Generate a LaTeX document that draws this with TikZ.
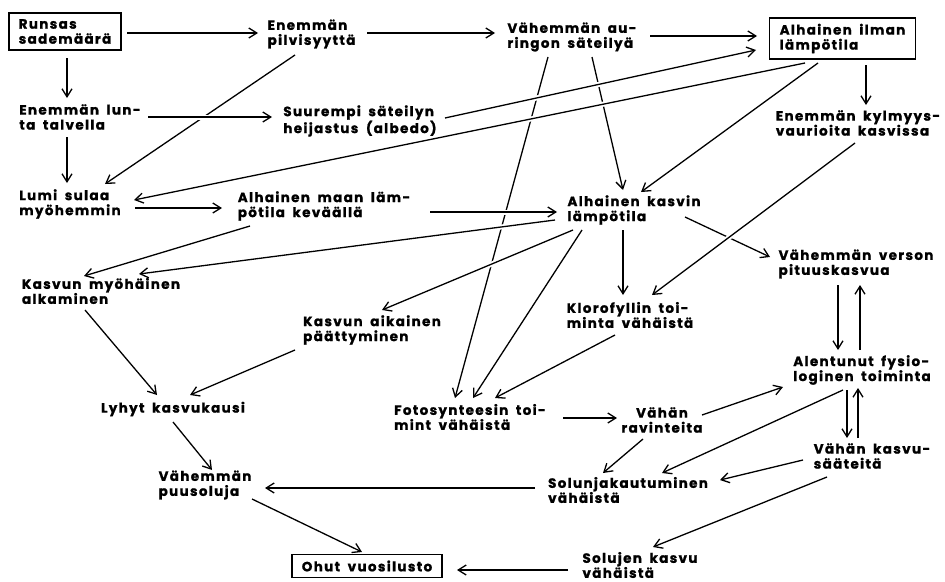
\documentclass[tikz,border=0pt]{standalone}
\usepackage{fontspec}
\setmainfont{Poppins}[LetterSpace=10,WordSpace=1.8,BoldFeatures={FakeBold=1.2}]
\usetikzlibrary{arrows.meta}
\tikzset{
  txt/.style={align=left,inner sep=0pt,font=\fontsize{13.5}{15}\selectfont\bfseries},
  box/.style={txt,draw,line width=1.6pt,inner xsep=10pt,inner ysep=6pt},
  arr/.style={line width=1.3pt,-{Straight Barb[length=8pt,width=10pt]}},
  halo/.style={preaction={draw=white,line width=5pt,-}}
}

\begin{document}
\begin{tikzpicture}[x=1pt,y=-1pt]
\useasboundingbox (0,0) rectangle (945,581);
% nodes, placed at their centres
\node[box] (sade) at (65,31.5) {Runsas\\sademäärä};
\node[txt] (pilvi) at (311.5,34) {Enemmän\\pilvisyyttä};
\node[txt] (aur) at (572,37) {Vähemmän au-\\ringon säteilyä};
\node[box] (ilma) at (842.5,38.5) {Alhainen ilman\\lämpötila};
\node[txt] (lunta) at (80,117) {Enemmän lun-\\ta talvella};
\node[txt] (albedo) at (360,121) {Suurempi säteilyn\\heijastus (albedo)};
\node[txt] (kylm) at (858,123) {Enemmän kylmyys-\\vaurioita kasvissa};
\node[txt] (lumi) at (70,204) {Lumi sulaa\\myöhemmin};
\node[txt] (maan) at (324,206) {Alhainen maan läm-\\pötila keväällä};
\node[txt] (kasvin) at (634,210) {Alhainen kasvin\\lämpötila};
\node[txt] (myoh) at (101,291) {Kasvun myöhäinen\\alkaminen};
\node[txt] (aik) at (372,330) {Kasvun aikainen\\päättyminen};
\node[txt] (klor) at (630,315) {Klorofyllin toi-\\minta vähäistä};
\node[txt] (verson) at (856,264) {Vähemmän verson\\pituuskasvua};
\node[txt] (fysio) at (862,370) {Alentunut fysio-\\loginen toiminta};
\node[txt] (lyhyt) at (173,409) {Lyhyt kasvukausi};
\node[txt] (foto) at (470,417) {Fotosynteesin toi-\\mint vähäistä};
\node[txt,align=center] (ravin) at (662,420) {Vähän\\ravinteita};
\node[txt] (saate) at (872,456) {Vähän kasvu-\\sääteitä};
\node[txt] (jako) at (628,490) {Solunjakautuminen\\vähäistä};
\node[txt] (puu) at (205,485) {Vähemmän\\puusoluja};
\node[txt] (solkas) at (640,565) {Solujen kasvu\\vähäistä};
\node[box] (ohut) at (367,566) {Ohut vuosilusto};

% arrows that pass under others
\path[arr]
  ([shift={(62,1.5)}]sade.center) edge ([shift={(-53.5,-1)}]pilvi.center)
  ([shift={(2,26.5)}]sade.center) edge ([shift={(-13,-19)}]lunta.center)
  ([shift={(-16.5,21)}]pilvi.center) edge ([shift={(35,-20)}]lumi.center)
  ([shift={(55.5,-1)}]pilvi.center) edge ([shift={(-77,-4)}]aur.center)
  ([shift={(78,-1)}]aur.center) edge ([shift={(-85.5,-2.5)}]ilma.center)
  ([shift={(-13,20)}]lunta.center) edge ([shift={(-3,-21)}]lumi.center)
  ([shift={(-24.5,24.5)}]ilma.center) edge ([shift={(7,-18)}]kasvin.center)
  ([shift={(23.5,26.5)}]ilma.center) edge ([shift={(8,-18)}]kylm.center)
  ([shift={(-24,20)}]aur.center) edge ([shift={(-15,-19)}]foto.center)
  ([shift={(20,20)}]aur.center) edge ([shift={(-11,-20)}]kasvin.center)
  ([shift={(65,4)}]lumi.center) edge ([shift={(-102,2)}]maan.center)
  ([shift={(-74,20)}]maan.center) edge ([shift={(-17,-15)}]myoh.center)
  ([shift={(-52,20)}]kasvin.center) edge ([shift={(3,-19)}]foto.center)
  ([shift={(-11,20)}]kasvin.center) edge ([shift={(-7,-20)}]klor.center)
  ([shift={(51,7)}]kasvin.center) edge ([shift={(-86,-7)}]verson.center)
  ([shift={(-16,19)}]myoh.center) edge ([shift={(-16,-14)}]lyhyt.center)
  ([shift={(-77,20)}]aik.center) edge ([shift={(17,-14)}]lyhyt.center)
  ([shift={(-15,20)}]klor.center) edge ([shift={(25,-19)}]foto.center)
  ([shift={(-18,21)}]verson.center) edge ([shift={(-24,-20)}]fysio.center)
  ([shift={(-2,-20)}]fysio.center) edge ([shift={(4,21)}]verson.center)
  ([shift={(93,1)}]foto.center) edge ([shift={(-45,-2)}]ravin.center)
  ([shift={(40,-5)}]ravin.center) edge ([shift={(-79,17)}]fysio.center)
  ([shift={(-19,19)}]ravin.center) edge ([shift={(-25,-17)}]jako.center)
  ([shift={(-19,20)}]fysio.center) edge ([shift={(34,-17)}]jako.center)
  ([shift={(-15,20)}]fysio.center) edge ([shift={(-25,-18)}]saate.center)
  ([shift={(-14,-18)}]saate.center) edge ([shift={(-4,18)}]fysio.center)
  ([shift={(-69,4)}]saate.center) edge ([shift={(92,-10)}]jako.center)
  ([shift={(-45,21)}]saate.center) edge ([shift={(13,-18)}]solkas.center)
  ([shift={(-93,-2)}]jako.center) edge ([shift={(60,3)}]puu.center)
  ([shift={(0,13)}]lyhyt.center) edge ([shift={(7,-15)}]puu.center)
  ([shift={(47,14)}]puu.center) edge ([shift={(-5,-14)}]ohut.center)
  ([shift={(-72,5)}]solkas.center) edge ([shift={(90,4)}]ohut.center);

% arrows that cross over others
\path[arr]
  ([shift={(68,0)}]lunta.center) edge[halo] ([shift={(-88,-4)}]albedo.center)
  ([shift={(85,-3)}]albedo.center) edge[halo] ([shift={(-86.5,11.5)}]ilma.center)
  ([shift={(-37.5,24.5)}]ilma.center) edge[halo] ([shift={(64,-4)}]lumi.center)
  ([shift={(106,6)}]maan.center) edge[halo] ([shift={(-77,2)}]kasvin.center)
  ([shift={(-79,10)}]kasvin.center) edge[halo] ([shift={(38,-17)}]myoh.center)
  ([shift={(-61,20)}]kasvin.center) edge[halo] ([shift={(10,-20)}]aik.center)
  ([shift={(-3,20)}]kylm.center) edge[halo] ([shift={(22,-20)}]klor.center);
\end{tikzpicture}
\end{document}
